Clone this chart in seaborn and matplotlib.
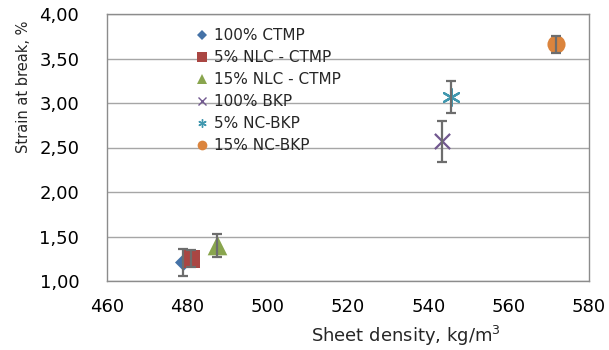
import matplotlib
matplotlib.use("Agg")
import matplotlib.pyplot as plt
import seaborn as sns
import pandas as pd
from matplotlib.ticker import FuncFormatter, MultipleLocator
from matplotlib.lines import Line2D

labels = ['100% CTMP', '5% NLC - CTMP', '15% NLC - CTMP', '100% BKP', '5% NC-BKP', '15% NC-BKP']
density = [479.0, 481.0, 487.5, 543.5, 545.7, 571.9]
strain = [1.21, 1.25, 1.40, 2.57, 3.07, 3.66]
err = [0.155, 0.095, 0.125, 0.23, 0.18, 0.095]

colors = ['#4572A7', '#AA4643', '#89A54E', '#71588F', '#4198AF', '#DB843D']
markers = ['D', 's', '^', 'x', (6, 2, 0), 'o']
sizes = [75, 160, 200, 120, 150, 170]

sns.set_style('white')
plt.rcParams['font.family'] = ['DejaVu Sans']

df = pd.DataFrame({'label': labels, 'density': density, 'strain': strain, 'err': err})

fig = plt.figure(figsize=(6.09, 3.5), dpi=100)
ax = fig.add_axes([107/609, 1-281/350, (589-107)/609, (281-14)/350])

for i in range(len(df)):
    sub = df.iloc[[i]]
    line_marker = markers[i] == 'x' or isinstance(markers[i], tuple)
    if line_marker:
        sns.scatterplot(data=sub, x='density', y='strain', ax=ax, color=colors[i],
                        marker=markers[i], s=sizes[i], linewidth=1.6, zorder=3, legend=False)
    else:
        sns.scatterplot(data=sub, x='density', y='strain', ax=ax, color=colors[i],
                        marker=markers[i], s=sizes[i], linewidth=0, zorder=3, legend=False)

ax.errorbar(df['density'], df['strain'], yerr=df['err'], fmt='none',
            ecolor='#6d6d6d', elinewidth=1.6, capsize=3.3, capthick=1.6, zorder=4)

ax.set_xlim(460, 580)
ax.set_ylim(1.0, 4.0)
ax.xaxis.set_major_locator(MultipleLocator(20))
ax.yaxis.set_major_locator(MultipleLocator(0.5))
ax.yaxis.set_major_formatter(FuncFormatter(lambda v, p: f"{v:.2f}".replace('.', ',')))
ax.grid(axis='y', color='#a6a6a6', linewidth=1)
ax.grid(axis='x', visible=False)
for s in ax.spines.values():
    s.set_color('#8c8c8c')
    s.set_linewidth(1)
ax.tick_params(axis='both', length=0, labelsize=13, colors='black')
ax.tick_params(axis='x', pad=12.5)
ax.tick_params(axis='y', pad=20)
ax.set_xlabel('')
ax.set_ylabel('')

fig.text(24/609, 1-87/350, 'Strain at break, %', rotation=90, ha='center', va='center', fontsize=10.5)
fig.text(406/609, 1-336/350, 'Sheet density, kg/m$^3$', ha='center', va='center', fontsize=13)

handles = []
lsz = [5, 7, 7, 6, 6, 7]
for i in range(len(labels)):
    mk = markers[i]
    if mk == 'x' or isinstance(mk, tuple):
        h = Line2D([], [], linestyle='none', marker=mk, color=colors[i], markersize=lsz[i], markeredgewidth=1)
    else:
        h = Line2D([], [], linestyle='none', marker=mk, color=colors[i], markersize=lsz[i], markeredgewidth=0)
    handles.append(h)
leg = ax.legend(handles, labels, loc='upper left', bbox_to_anchor=((196-107)/482, (281-28.5)/267),
                frameon=False, fontsize=11, handlelength=0.8, handletextpad=0.4,
                labelspacing=0.45, borderaxespad=0, borderpad=0)

fig.savefig('out.png', dpi=100)
